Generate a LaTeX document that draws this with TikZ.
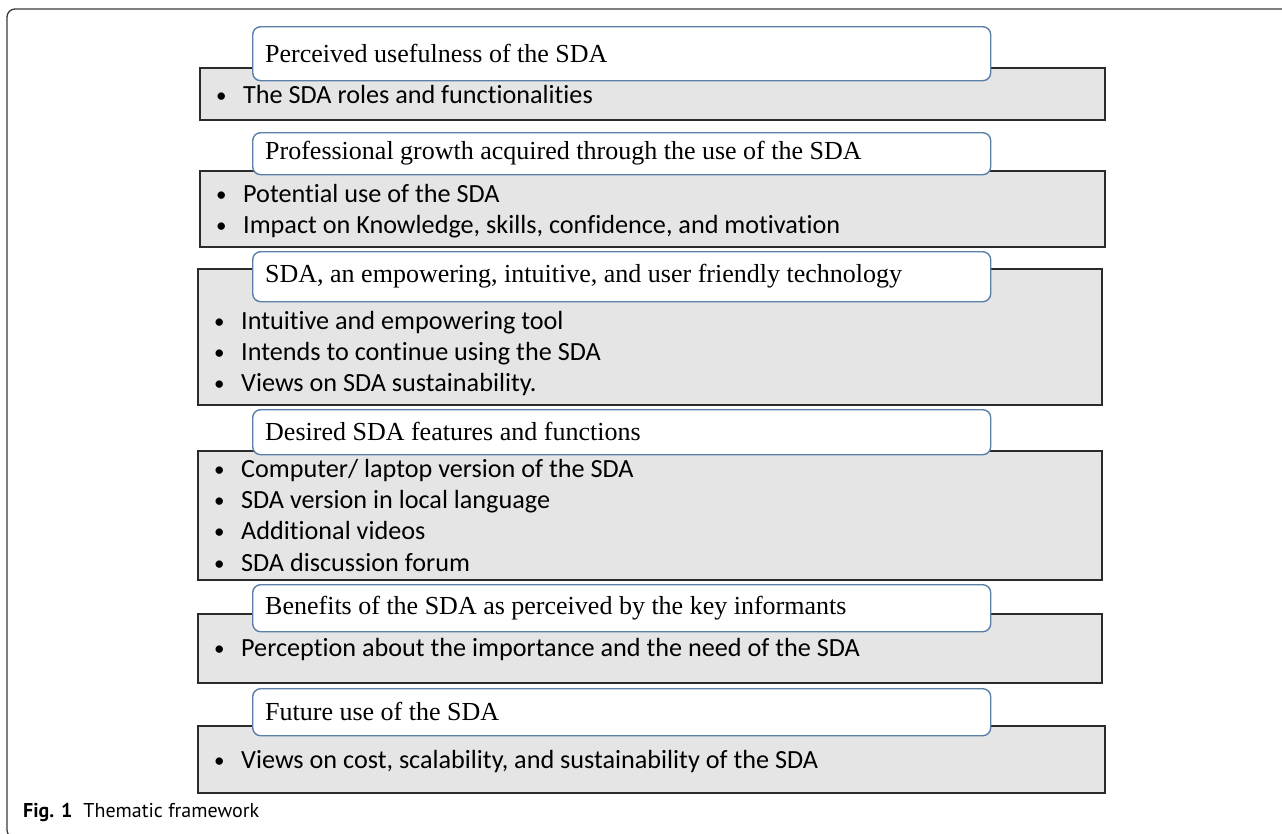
\documentclass[tikz,border=0pt]{standalone}
\usepackage{fontspec}
\setmainfont{Liberation Serif}
\newfontfamily\bodyfont[Ligatures={NoCommon}]{Carlito}
\newfontfamily\capfont{PT Sans}
\definecolor{boxgray}{HTML}{E5E5E5}
\definecolor{boxedge}{HTML}{2B2B2B}
\definecolor{headedge}{HTML}{5A7FA8}
\definecolor{frameedge}{HTML}{3A3A3A}
\begin{document}
\begin{tikzpicture}[x=1pt,y=-1pt,
  graybox/.style={draw=boxedge,fill=boxgray,line width=1.5pt,anchor=north west,inner sep=0pt},
  headbox/.style={draw=headedge,fill=white,line width=1.4pt,rounded corners=8pt,anchor=north west,inner sep=0pt,minimum width=738pt},
  headtext/.style={anchor=west,inner sep=0pt,font=\fontsize{26}{30}\selectfont},
  bullets/.style={anchor=north west,inner sep=0pt,align=left,font=\bodyfont\fontsize{26.2}{31.2}\selectfont}]
\useasboundingbox (0,0) rectangle (1282,833);
\newcommand\bl[1]{\makebox[27pt][l]{\raisebox{1pt}{\scalebox{0.8}{\textbullet}}}#1}
% outer frame
\draw[frameedge,line width=1.3pt,rounded corners=8pt] (1290,9) -- (7,9) -- (7,838) -- (40,838);
% box 1
\node[graybox,minimum width=905pt,minimum height=52pt] (g1) at (199,67) {};
\node[headbox,minimum height=54pt] (h1) at (252,26) {};
\node[headtext] (t1) at (265,53) {Perceived usefulness of the SDA};
\node[bullets] (b1) at (216,85) {\bl{The SDA roles and functionalities}};
% box 2
\node[graybox,minimum width=905pt,minimum height=76pt] (g2) at (199,170) {};
\node[headbox,minimum height=42pt] (h2) at (252,132) {};
\node[headtext] (t2) at (265,153) {Professional growth acquired through the use of the SDA};
\node[bullets] (b2) at (216,184) {\bl{Potential use of the SDA}\\\bl{Impact on Knowledge, skills, confidence, and motivation}};
% box 3
\node[graybox,minimum width=904pt,minimum height=136pt] (g3) at (197,268) {};
\node[headbox,minimum height=50pt] (h3) at (252,251) {};
\node[headtext] (t3) at (265,276) {SDA, an empowering, intuitive, and user friendly technology};
\node[bullets] (b3) at (214,311) {\bl{Intuitive and empowering tool}\\\bl{Intends to continue using the SDA}\\\bl{Views on SDA sustainability.}};
% box 4
\node[graybox,minimum width=904pt,minimum height=129pt] (g4) at (197,450) {};
\node[headbox,minimum height=45pt] (h4) at (252,409) {};
\node[headtext] (t4) at (265,431) {Desired SDA features and functions};
\node[bullets] (b4) at (214,459) {\bl{Computer/ laptop version of the SDA}\\\bl{SDA version in local language}\\\bl{Additional videos}\\\bl{SDA discussion forum}};
% box 5
\node[graybox,minimum width=904pt,minimum height=69pt] (g5) at (197,613) {};
\node[headbox,minimum height=47pt] (h5) at (252,584) {};
\node[headtext] (t5) at (265,608) {Benefits of the SDA as perceived by the key informants};
\node[bullets] (b5) at (214,638) {\bl{Perception about the importance and the need of the SDA}};
% box 6
\node[graybox,minimum width=907pt,minimum height=67pt] (g6) at (197,725) {};
\node[headbox,minimum height=47pt] (h6) at (252,688) {};
\node[headtext] (t6) at (265,711) {Future use of the SDA};
\node[bullets] (b6) at (214,750) {\bl{Views on cost, scalability, and sustainability of the SDA}};
% caption
\node[anchor=west,inner sep=0pt,font=\capfont\fontsize{20}{22}\selectfont] (cap) at (23,812) {\textbf{Fig. 1}\hspace{11pt}Thematic framework};
\end{tikzpicture}
\end{document}
